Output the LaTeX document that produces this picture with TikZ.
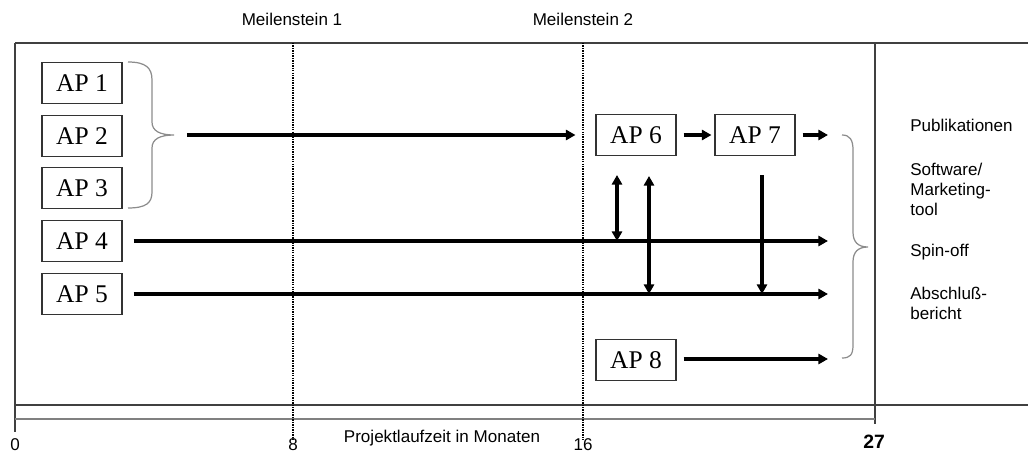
\documentclass[tikz,border=0pt]{standalone}
\usepackage{fontspec}
\setmainfont{Liberation Serif}
\setsansfont{Liberation Sans}
\usepackage{xcolor}
\usepackage{tikz}
\usetikzlibrary{arrows.meta,calc}
\tikzset{
  apbox/.style={draw=black!80,line width=0.6pt,minimum width=1.6cm,minimum height=0.81cm,inner sep=0pt,font=\fontsize{14.5}{16}\selectfont},
  flow/.style={line width=1.9pt,->},
  lbl/.style={font=\sffamily\fontsize{9.7}{11.4}\selectfont,inner sep=0pt},
  frame/.style={draw=black!75,line width=0.7pt},
  mile/.style={line width=1.6pt,dash pattern=on 0.8pt off 0.6pt},
  brace/.style={draw=black!45,line width=0.7pt}
}
\begin{document}
\begin{tikzpicture}[x=0.02cm,y=-0.02cm,>={Triangle[length=5.5pt,width=5.8pt]}]
\useasboundingbox (0,0) rectangle (1028,453);
\coordinate (O) at (15,43);
\coordinate (R) at (875,43);
\draw[frame] (O) -- (1028,43);
\draw[frame] (O) -- (15,432);
\draw[frame] (R) -- (875,424);
\draw[frame] (15,405) -- (1028,405);
\draw[draw=black!50,line width=1.2pt] (15,419) -- (875,419);
\coordinate (m1) at (293,43);
\coordinate (m2) at (583,43);
\draw[mile] (m1) -- ($(m1)+(0,397)$);
\draw[mile] (m2) -- ($(m2)+(0,397)$);
\node[lbl] (ms1) at (292,19) {Meilenstein 1};
\node[lbl] (ms2) at (583,19) {Meilenstein 2};
\node[lbl] (t0) at (15,445) {0};
\node[lbl] (t8) at (293,445) {8};
\node[lbl] (t16) at (583,445) {16};
\node[lbl,font=\sffamily\bfseries\fontsize{11}{13}\selectfont] (t27) at (874,442) {27};
\node[lbl] (axis) at (442,438) {Projektlaufzeit in Monaten};
\node[apbox] (ap1) at (82,83) {AP 1};
\node[apbox] (ap2) at (82,136) {AP 2};
\node[apbox] (ap3) at (82,188) {AP 3};
\node[apbox] (ap4) at (82,241) {AP 4};
\node[apbox] (ap5) at (82,294) {AP 5};
\node[apbox] (ap6) at (636,135) {AP 6};
\node[apbox] (ap7) at (755,135) {AP 7};
\node[apbox] (ap8) at (636,360) {AP 8};
\draw[brace] (128,62) .. controls (146,62) and (152,68) .. (152,80) -- (152,122) .. controls (152,131) and (160,135) .. (174,135) coordinate (ltip) .. controls (160,135) and (152,139) .. (152,148) -- (152,192) .. controls (152,203) and (146,208) .. (128,208);
\draw[brace] (842,135) .. controls (850,135) and (853,140) .. (853,150) -- (853,232) .. controls (853,242) and (858,247) .. (868,247) .. controls (858,247) and (853,252) .. (853,262) -- (853,345) .. controls (853,355) and (850,358) .. (842,358);
\coordinate (e7) at (828,135);
\coordinate (e4) at (828,241);
\coordinate (e5) at (828,294);
\coordinate (e8) at (828,359);
\draw[flow,shorten <=0.26cm,shorten >=0.4cm] (ltip) -- (ap6.west);
\draw[flow,shorten <=0.14cm,shorten >=0.06cm] (ap6) -- (ap7);
\draw[flow,shorten <=0.14cm] (ap7) -- (e7);
\draw[flow,shorten <=0.22cm] (ap4) -- (e4);
\draw[flow,shorten <=0.22cm] (ap5) -- (e5);
\draw[flow,shorten <=0.14cm] (ap8.east |- e8) -- (e8);
\coordinate (v1) at (617,175);
\coordinate (v2) at (649,176);
\coordinate (v3) at (762,175);
\draw[flow,<->] (v1) -- (v1 |- e4);
\draw[flow,<->] (v2) -- (v2 |- e5);
\draw[flow] (v3) -- (v3 |- e5);
\node[lbl,anchor=west] (pub) at (910,125) {Publikationen};
\node[lbl,anchor=west,align=left] (soft) at (910,189) {Software/\\Marketing-\\tool};
\node[lbl,anchor=west] (spin) at (910,252) {Spin-off};
\node[lbl,anchor=west,align=left] (absch) at (910,303) {Abschluß-\\bericht};
\end{tikzpicture}
\end{document}
